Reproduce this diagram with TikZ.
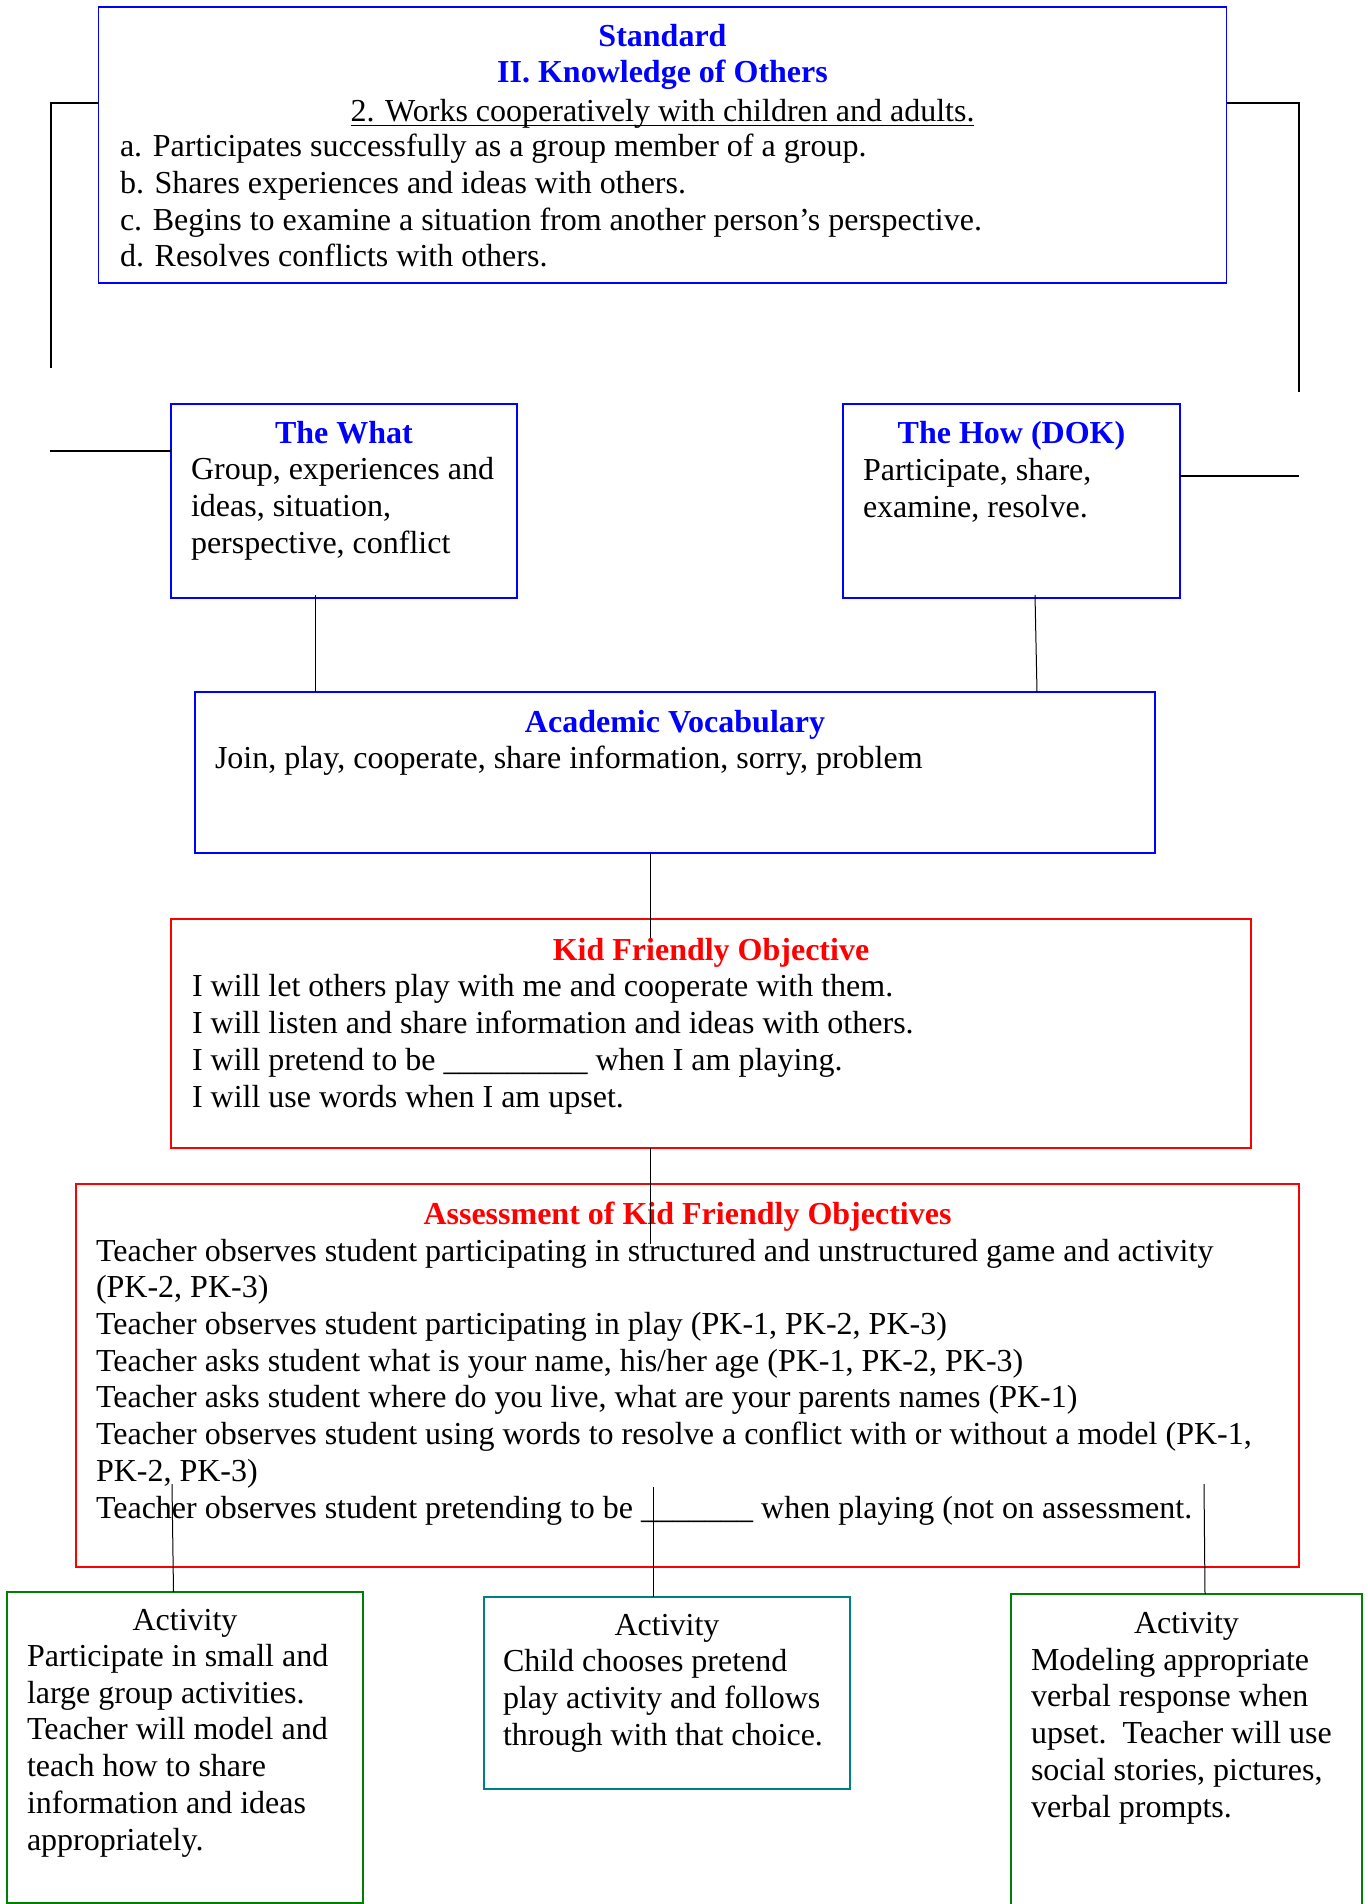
\documentclass[tikz,border=0pt]{standalone}
\usepackage{fontspec}
\setmainfont{Liberation Serif}
\definecolor{stdblue}{RGB}{0,0,255}
\definecolor{kidred}{RGB}{255,0,0}
\definecolor{actgreen}{RGB}{0,128,0}
\definecolor{actteal}{RGB}{0,128,128}
\begin{document}
\begin{tikzpicture}[x=0.5pt,y=-0.5pt,
  every node/.style={inner sep=0pt, outer sep=0pt, font=\fontsize{16pt}{18.35pt}\selectfont},
  box/.style={draw, rectangle, line width=0.65pt, inner sep=0pt},
  bluebox/.style={box, draw=stdblue},
  redbox/.style={box, draw=kidred},
  greenbox/.style={box, draw=actgreen},
  tealbox/.style={box, draw=actteal},
  txt/.style={anchor=base west, align=left},
  ctitle/.style={anchor=base, font=\fontsize{16pt}{18.35pt}\selectfont\bfseries},
  plaintitle/.style={anchor=base},
  conn/.style={draw=black, line width=0.5pt},
  bracket/.style={draw=black, line width=0.8pt},
]
\useasboundingbox (0,0) rectangle (1367,1904);

% ---------- boxes ----------
\node[bluebox, minimum width=564pt, minimum height=138pt] (std) at (662.5,145) {};
\node[bluebox, minimum width=173pt, minimum height=97pt] (what) at (344,501) {};
\node[bluebox, minimum width=168.5pt, minimum height=97pt] (how) at (1011.5,501) {};
\node[bluebox, minimum width=480pt, minimum height=80.5pt] (vocab) at (675,772.5) {};
\node[redbox, minimum width=540pt, minimum height=114.5pt] (kid) at (711,1033.5) {};
\node[redbox, minimum width=611.5pt, minimum height=191.5pt] (assess) at (687.5,1375.5) {};
\node[greenbox, minimum width=178pt, minimum height=155.5pt] (act1) at (185,1747.5) {};
\node[tealbox, minimum width=183pt, minimum height=96pt] (act2) at (667,1693) {};
\node[greenbox, minimum width=175.5pt, minimum height=168pt] (act3) at (1186.5,1762) {};

% ---------- Standard ----------
\node[ctitle, text=stdblue] (stdt1) at (662.5,47) {Standard};
\node[ctitle, text=stdblue] (stdt2) at (662.5,83) {II. Knowledge of Others};
\node[plaintitle] (stdt3) at (662.5,122) {2. Works cooperatively with children and adults.};
\draw[line width=0.6pt] ([yshift=-1.6pt]stdt3.base west) -- ([yshift=-1.6pt]stdt3.base east);
\node[txt] (stdl) at (120,267) {a. Participates successfully as a group member of a group.\\
b. Shares experiences and ideas with others.\\
c. Begins to examine a situation from another person’s perspective.\\
d. Resolves conflicts with others.};

% ---------- What / How ----------
\node[ctitle, text=stdblue] (whatt) at (344,443) {The What};
\node[txt] (whatl) at (191,553) {Group, experiences and\\ ideas, situation,\\ perspective, conflict};
\node[ctitle, text=stdblue] (howt) at (1011.5,443) {The How (DOK)};
\node[txt] (howl) at (863,517) {Participate, share,\\ examine, resolve.};

% ---------- Vocabulary ----------
\node[ctitle, text=stdblue] (vocabt) at (675,732) {Academic Vocabulary};
\node[txt] (vocabl) at (215,768) {Join, play, cooperate, share information, sorry, problem};

% ---------- Kid friendly ----------
\node[ctitle, text=kidred] (kidt) at (711,960) {Kid Friendly Objective};
\node[txt] (kidl) at (192,1107) {I will let others play with me and cooperate with them.\\
I will listen and share information and ideas with others.\\
I will pretend to be \_\_\_\_\_\_\_\_\_ when I am playing.\\
I will use words when I am upset.};

% ---------- Assessment ----------
\node[ctitle, text=kidred] (asst) at (687.5,1224) {Assessment of Kid Friendly Objectives};
\node[txt] (assl) at (96,1518) {Teacher observes student participating in structured and unstructured game and activity\\
(PK-2, PK-3)\\
Teacher observes student participating in play (PK-1, PK-2, PK-3)\\
Teacher asks student what is your name, his/her age (PK-1, PK-2, PK-3)\\
Teacher asks student where do you live, what are your parents names (PK-1)\\
Teacher observes student using words to resolve a conflict with or without a model (PK-1,\\
PK-2, PK-3)\\
Teacher observes student pretending to be \_\_\_\_\_\_\_ when playing (not on assessment.};

% ---------- Activities ----------
\node[plaintitle] (a1t) at (185,1630) {Activity};
\node[txt] (a1l) at (27,1850) {Participate in small and\\ large group activities.\\ Teacher will model and\\ teach how to share\\ information and ideas\\ appropriately.};
\node[plaintitle] (a2t) at (667,1635) {Activity};
\node[txt] (a2l) at (503,1745) {Child chooses pretend\\ play activity and follows\\ through with that choice.};
\node[plaintitle] (a3t) at (1186.5,1633) {Activity};
\node[txt] (a3l) at (1031,1817) {Modeling appropriate\\ verbal response when\\ upset.\ \ Teacher will use\\ social stories, pictures,\\ verbal prompts.};

% ---------- connectors ----------
\coordinate (lbend) at (51,368);
\coordinate (rbend) at (1299,392);
\coordinate (lstub) at (50,451);
\coordinate (rstub) at (1299,476);
\draw[bracket] (std.west |- 0,103) -| (lbend);
\draw[bracket] (std.east |- 0,103) -| (rbend);
\draw[bracket] (lstub) -- (what.west |- lstub);
\draw[bracket] (how.east |- rstub) -- (rstub);

\coordinate (wv1) at (315,595);
\draw[conn] (wv1) -- (vocab.north -| wv1);
\coordinate (hv1) at (1035,595);
\draw[conn] (hv1) -- (1037,0 |- vocab.north);
\coordinate (vk) at (650,938);
\draw[conn] (vocab.south -| vk) -- (vk);
\coordinate (ka) at (650,1244);
\draw[conn] (kid.south -| ka) -- (ka);
\coordinate (aa1) at (172,1484);
\draw[conn] (aa1) -- (173.5,0 |- act1.north);
\coordinate (aa2) at (653,1487);
\draw[conn] (aa2) -- (act2.north -| aa2);
\coordinate (aa3) at (1204,1484);
\draw[conn] (aa3) -- (1205,0 |- act3.north);
\end{tikzpicture}
\end{document}
